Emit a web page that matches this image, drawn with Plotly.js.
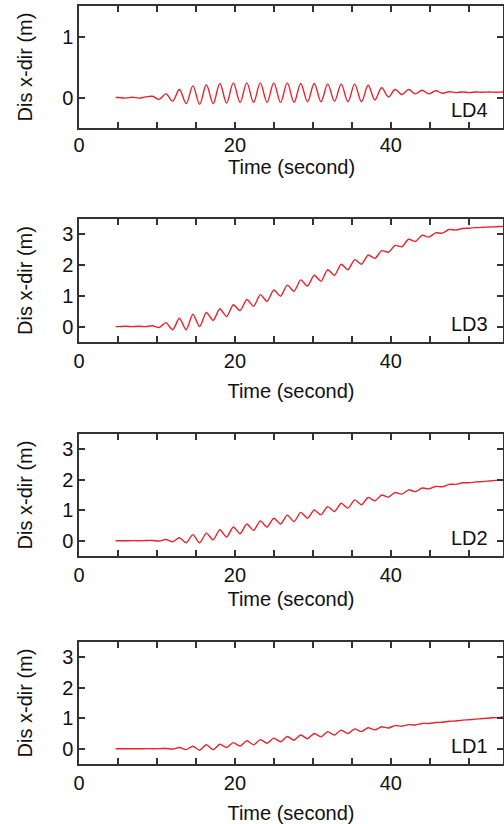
<!DOCTYPE html>
<html>
<head>
<meta charset="utf-8">
<script src="https://cdn.plot.ly/plotly-3.0.1.min.js"></script>
<style>html,body{margin:0;padding:0;background:#fff;}#chart{width:504px;height:824px;}</style>
</head>
<body>
<div id="chart"></div>
<script>
// Time samples (s), shared by all four panels
const time = [4.7, 5.1, 5.96, 6.83, 7.69, 8.56, 9.42, 10.29, 11.15, 12.02,
  12.88, 13.75, 14.61, 15.48, 16.34, 17.21, 18.07, 18.94, 19.8, 20.67,
  21.53, 22.4, 23.26, 24.13, 24.99, 25.86, 26.72, 27.59, 28.45, 29.32,
  30.18, 31.05, 31.91, 32.78, 33.64, 34.51, 35.37, 36.24, 37.1, 37.97,
  38.83, 39.7, 40.56, 41.43, 42.29, 43.16, 44.02, 44.89, 45.75, 46.62,
  47.48, 48.35, 49.21, 50.08, 50.94, 51.81, 52.67, 53.54, 54.4, 55.27];

const ld4 = [0, 0, -0.01, 0.005, -0.01, 0.01, 0.02, -0.03, 0.06, -0.06,
  0.13, -0.1, 0.19, -0.11, 0.21, -0.1, 0.23, -0.09, 0.24, -0.08,
  0.24, -0.08, 0.24, -0.08, 0.24, -0.08, 0.24, -0.08, 0.23, -0.07,
  0.23, -0.07, 0.22, -0.06, 0.22, -0.07, 0.22, -0.07, 0.2, -0.04,
  0.16, 0.01, 0.13, 0.05, 0.13, 0.06, 0.12, 0.06, 0.11, 0.07,
  0.095, 0.08, 0.09, 0.08, 0.09, 0.085, 0.09, 0.085, 0.09, 0.09];

const ld3 = [0, 0, 0.01, 0, 0.01, 0, 0.03, -0.03, 0.13, -0.1,
  0.27, -0.1, 0.4, 0.0, 0.46, 0.2, 0.58, 0.33, 0.71, 0.52,
  0.88, 0.66, 1.04, 0.82, 1.19, 0.99, 1.35, 1.15, 1.52, 1.32,
  1.67, 1.48, 1.85, 1.67, 2.03, 1.85, 2.18, 2.03, 2.33, 2.22,
  2.47, 2.42, 2.64, 2.6, 2.84, 2.77, 2.97, 2.91, 3.05, 3.04,
  3.16, 3.14, 3.19, 3.2, 3.22, 3.23, 3.24, 3.25, 3.26, 3.27];

const ld2 = [0, 0, 0, 0.005, 0, 0.01, 0.01, -0.01, 0.04, -0.03,
  0.1, -0.07, 0.2, -0.07, 0.25, 0.03, 0.36, 0.12, 0.45, 0.23,
  0.55, 0.34, 0.65, 0.45, 0.74, 0.55, 0.84, 0.63, 0.93, 0.74,
  1.01, 0.85, 1.12, 0.96, 1.23, 1.07, 1.34, 1.18, 1.42, 1.31,
  1.5, 1.43, 1.58, 1.53, 1.67, 1.61, 1.73, 1.7, 1.78, 1.77,
  1.85, 1.85, 1.9, 1.9, 1.93, 1.94, 1.96, 1.98, 2.0, 2.02];

const ld1 = [0, 0, 0, 0, 0, 0.005, 0, 0.005, 0.01, -0.01,
  0.04, -0.03, 0.08, -0.05, 0.13, -0.03, 0.15, 0.04, 0.2, 0.09,
  0.26, 0.13, 0.3, 0.18, 0.35, 0.23, 0.4, 0.28, 0.45, 0.33,
  0.5, 0.39, 0.56, 0.45, 0.61, 0.5, 0.65, 0.56, 0.69, 0.62,
  0.72, 0.68, 0.76, 0.74, 0.79, 0.78, 0.83, 0.83, 0.86, 0.87,
  0.9, 0.91, 0.94, 0.95, 0.97, 0.99, 1.01, 1.02, 1.04, 1.05];

const panelLabels = ["LD4", "LD3", "LD2", "LD1"];
const xTitle = "Time (second)";
const yTitle = "Dis x-dir (m)";
const xTickVals = [0, 5, 10, 15, 20, 25, 30, 35, 40, 45, 50];
const xTickText = ["0", "", "", "", "20", "", "", "", "40", "", ""];

const series = [ld4, ld3, ld2, ld1];
const FONT = "Arial, 'Liberation Sans', sans-serif";
const AX = "#333333";
const TXT = "#111111";
const H = 824;
const boxes = [[6, 128], [219, 342], [434, 556], [642, 764]];
const xStandoff = [0, 13, 7, 13];

const traces = [];
const layout = {
  width: 504, height: 824,
  margin: {l: 79, r: 1, t: 0, b: 0},
  paper_bgcolor: "#ffffff", plot_bgcolor: "#ffffff",
  showlegend: false,
  font: {family: FONT, size: 20, color: TXT},
  annotations: []
};

series.forEach((ys, i) => {
  const n = i + 1;
  const sfx = n === 1 ? "" : String(n);
  traces.push({
    type: "scatter", mode: "lines",
    x: time, y: ys,
    xaxis: "x" + sfx, yaxis: "y" + sfx,
    line: {color: "#e8232b", width: 1.4, shape: "spline", smoothing: i === 0 ? 1 : 0.7}
  });
  const [top, bot] = boxes[i];
  const dom = [1 - bot / H, 1 - top / H];
  const yr = i === 0 ? [-0.5, 1.5] : [-0.5, 3.5];
  // the top panel's x title sits closer than Plotly's minimum standoff allows,
  // so it is drawn as an annotation tied to that axis' domain
  const titleAsAnnot = i === 0;
  const xa = {
    domain: [0, 1], anchor: "y" + sfx,
    range: [0, 54.4], tickmode: "array", tickvals: xTickVals, ticktext: xTickText,
    showline: true, linecolor: AX, linewidth: 1.5, mirror: "ticks",
    ticks: "inside", ticklen: 6, tickwidth: 1.5, tickcolor: AX,
    showgrid: false, zeroline: false,
    tickfont: {size: 20, color: TXT},
    title: titleAsAnnot ? {text: ""} : {text: xTitle, font: {size: 20, color: TXT}, standoff: xStandoff[i]},
    automargin: false
  };
  if (titleAsAnnot) {
    xa.ticklabelstandoff = -2;
    layout.annotations.push({
      text: xTitle, xref: "x" + sfx + " domain", yref: "y" + sfx + " domain",
      x: 0.5, y: -39 / (bot - top), xanchor: "center", yanchor: "middle",
      showarrow: false, font: {size: 20, color: TXT}
    });
  }
  layout["xaxis" + sfx] = xa;
  layout["yaxis" + sfx] = {
    domain: dom, anchor: "x" + sfx,
    range: yr, dtick: 1, tick0: 0,
    showline: true, linecolor: AX, linewidth: 1.5, mirror: "ticks",
    ticks: "inside", ticklen: 6, tickwidth: 1.5, tickcolor: AX,
    showgrid: false, zeroline: false,
    tickfont: {size: 20, color: TXT},
    title: {text: yTitle, font: {size: 20, color: TXT}, standoff: 24},
    automargin: false
  };
  // overlay axis carrying the short minor ticks
  layout["yaxis" + (n + 4)] = {
    domain: dom, anchor: "x" + sfx, overlaying: "y" + sfx, side: "left",
    range: yr, dtick: i === 0 ? 0.1 : 0.5, tick0: 0,
    showline: true, linecolor: AX, linewidth: 1.5, mirror: "ticks",
    ticks: "inside", ticklen: 3, tickwidth: 1.2, tickcolor: AX,
    showticklabels: false, showgrid: false, zeroline: false,
    automargin: false
  };
  layout.annotations.push({
    text: panelLabels[i],
    xref: "x" + sfx + " domain", yref: "y" + sfx + " domain",
    x: 0.922, y: 0.148, xanchor: "center", yanchor: "middle",
    showarrow: false, font: {size: 20, color: TXT}
  });
});

Plotly.newPlot("chart", traces, layout, {displayModeBar: false});
</script>
</body>
</html>
